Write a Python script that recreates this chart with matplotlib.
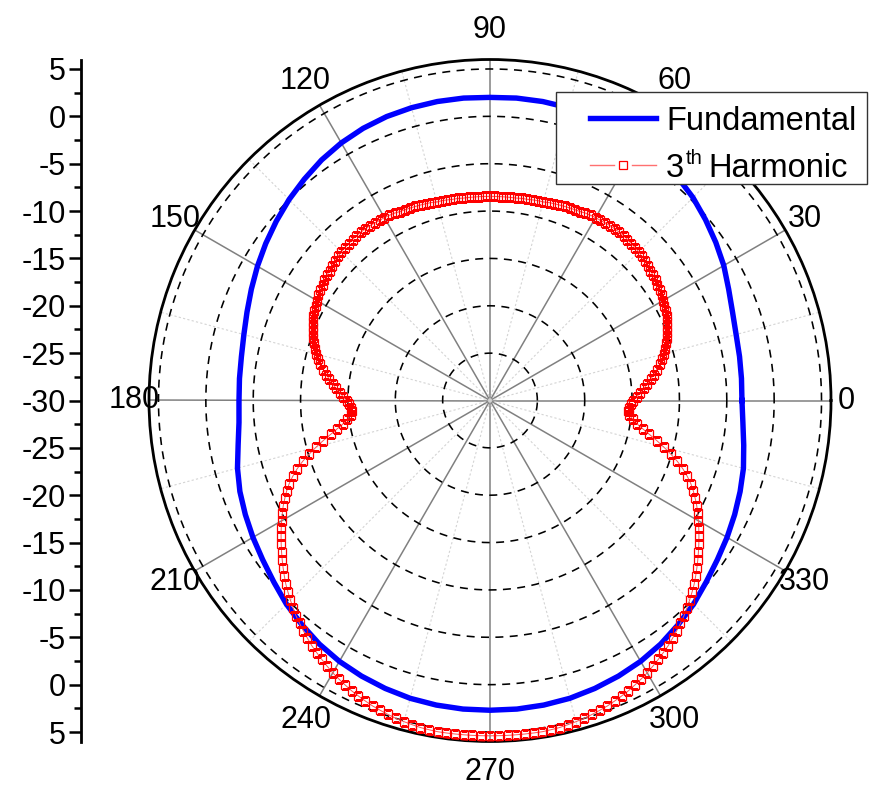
import numpy as np
import matplotlib
matplotlib.use('Agg')
import matplotlib.pyplot as plt
from matplotlib.lines import Line2D
from matplotlib.patches import Rectangle

plt.rcParams['font.family'] = ['Liberation Sans', 'DejaVu Sans']

# ---------------- data ----------------
theta_label_angles = list(range(0, 360, 30))
theta_labels = ['0', '30', '60', '90', '120', '150', '180',
                '210', '240', '270', '300', '330']
r_grid_values = [-25, -20, -15, -10, -5, 0, 5]
left_axis_labels = ['5', '0', '-5', '-10', '-15', '-20', '-25', '-30',
                    '-25', '-20', '-15', '-10', '-5', '0', '5']
legend_fund = 'Fundamental'
legend_harm_num, legend_harm_sup, legend_harm_rest = '3', 'th', 'Harmonic'

# Fundamental, every 5 degrees (0 ... 355)
fund_angles_deg = list(range(0, 360, 5))
fund_db = [-3.4, -3.35, -3.25, -3.1, -2.75, -2.2, -1.5, -0.9, -0.3, 0.3,
           0.8, 1.2, 1.5, 1.75, 1.9, 2.0, 2.05, 2.05, 2.0, 2.05,
           2.05, 2.0, 1.9, 1.7, 1.4, 1.0, 0.5, 0.0, -0.55, -1.1,
           -1.65, -2.2, -2.7, -3.1, -3.35, -3.45, -3.5, -3.4, -3.0, -2.4,
           -1.9, -1.5, -1.1, -0.7, -0.2, 0.4, 0.9, 1.4, 1.8, 2.1,
           2.35, 2.55, 2.65, 2.7, 2.7, 2.7, 2.65, 2.55, 2.35, 2.1,
           1.8, 1.4, 0.9, 0.4, -0.2, -0.7, -1.1, -1.5, -1.9, -2.3,
           -2.8, -3.2]

# 3rd harmonic, every 1.5 degrees, by quadrant
harm_q1 = [-14.9, -14.5, -14.1, -13.7, -13.3, -12.9, -12.5, -12.1, -11.7, -11.35,
           -11.0, -10.7, -10.45, -10.2, -9.95, -9.75, -9.55, -9.35, -9.2, -9.05,
           -8.9, -8.75, -8.65, -8.55, -8.4, -8.3, -8.2, -8.1, -8.0, -7.9,
           -7.8, -7.75, -7.7, -7.65, -7.6, -7.6, -7.6, -7.6, -7.65, -7.7,
           -7.7, -7.75, -7.8, -7.9, -7.95, -8.0, -8.05, -8.1, -8.15, -8.2,
           -8.3, -8.3, -8.35, -8.4, -8.4, -8.45, -8.45, -8.45, -8.45, -8.45]
harm_q2 = [-8.45, -8.45, -8.45, -8.45, -8.45, -8.45, -8.4, -8.4, -8.35, -8.3,
           -8.3, -8.2, -8.15, -8.1, -8.05, -8.0, -7.95, -7.9, -7.8, -7.75,
           -7.7, -7.7, -7.65, -7.6, -7.6, -7.6, -7.6, -7.65, -7.7, -7.75,
           -7.8, -7.9, -8.0, -8.1, -8.2, -8.3, -8.4, -8.55, -8.65, -8.75,
           -8.9, -9.05, -9.2, -9.35, -9.55, -9.75, -9.95, -10.2, -10.45, -10.7,
           -11.0, -11.35, -11.7, -12.1, -12.5, -12.9, -13.3, -13.7, -14.1, -14.5]
harm_q3 = [-14.9, -15.1, -15.3, -15.4, -15.2, -14.8, -14.3, -13.6, -12.8, -11.9,
           -11.0, -10.1, -9.2, -8.4, -7.7, -7.05, -6.5, -6.0, -5.5, -5.05,
           -4.6, -4.15, -3.7, -3.25, -2.8, -2.35, -1.9, -1.45, -1.0, -0.6,
           -0.2, 0.2, 0.6, 0.95, 1.3, 1.65, 2.0, 2.3, 2.6, 2.9,
           3.2, 3.45, 3.7, 3.95, 4.15, 4.35, 4.55, 4.7, 4.85, 5.0,
           5.1, 5.2, 5.3, 5.35, 5.4, 5.4, 5.4, 5.4, 5.4, 5.4]
harm_q4 = [5.4, 5.4, 5.4, 5.4, 5.4, 5.4, 5.4, 5.35, 5.3, 5.2,
           5.1, 5.0, 4.85, 4.7, 4.55, 4.35, 4.15, 3.95, 3.7, 3.45,
           3.2, 2.9, 2.6, 2.3, 2.0, 1.65, 1.3, 0.95, 0.6, 0.2,
           -0.2, -0.6, -1.0, -1.45, -1.9, -2.35, -2.8, -3.25, -3.7, -4.15,
           -4.6, -5.05, -5.5, -6.0, -6.5, -7.05, -7.7, -8.4, -9.2, -10.1,
           -11.0, -11.9, -12.8, -13.6, -14.3, -14.8, -15.2, -15.4, -15.3, -15.1]
harm_step_deg = 1.5

# ---------------- figure ----------------
W, H = 873, 790
FS = 22
FS_LEG = 23.5
fig = plt.figure(figsize=(W / 100, H / 100), dpi=100)


def fx(x):
    return x / W


def fy(y):
    return 1 - y / H


cx, cy, R = 490, 400.5, 341
rmin, rmax = -30, 6
ax = fig.add_axes([(cx - R) / W, (H - cy - R) / H, 2 * R / W, 2 * R / H],
                  projection='polar')
ax.set_ylim(rmin, rmax)
ax.grid(False)
ax.set_yticks([])

# angular grid lines
for a in range(0, 360, 30):
    t = np.deg2rad(a)
    ax.plot([t, t], [rmin, rmax], color='#808080', lw=1.1, zorder=1)
for a in range(15, 360, 30):
    t = np.deg2rad(a)
    ax.plot([t, t], [rmin, rmax], color='#d4d4d4', lw=0.8,
            ls=(0, (2, 2)), zorder=1)
# dashed radial circles
tt = np.linspace(0, 2 * np.pi, 721)
for rv in r_grid_values:
    ax.plot(tt, np.full_like(tt, rv), color='black', lw=1.15,
            ls=(0, (5, 4)), zorder=1)

# data
fa = np.deg2rad(np.array(fund_angles_deg + [fund_angles_deg[0] + 360]))
fv = np.array(fund_db + [fund_db[0]])
ax.plot(fa, fv, color='#0000ff', lw=3.9, zorder=3, solid_joinstyle='round')

harm_db = harm_q1 + harm_q2 + harm_q3 + harm_q4
ha = np.deg2rad(np.arange(len(harm_db)) * harm_step_deg)
ax.plot(ha, harm_db, color='#ff5050', lw=0.7, marker='s', markersize=5.4,
        mfc='none', mec='#ff0000', mew=0.9, zorder=4)

# theta ticks (marks only); labels placed around the circle
ax.set_xticks(np.deg2rad(np.arange(0, 360, 30)))
ax.set_xticklabels([])
ax.set_xticks(np.deg2rad(np.arange(15, 360, 30)), minor=True)
ax.tick_params(axis='x', which='major', direction='in', length=7, width=1.5,
               colors='black')
ax.tick_params(axis='x', which='minor', direction='in', length=5, width=1.2)
ax.spines['polar'].set_linewidth(2.0)
ax.spines['polar'].set_color('black')

for ang, lab in zip(theta_label_angles, theta_labels):
    t = np.deg2rad(ang)
    d = 356 + 15 * abs(np.sin(t))
    fig.text(fx(cx + d * np.cos(t)), fy(cy - d * np.sin(t)), lab,
             ha='center', va='center', fontsize=FS)

# legend (drawn Origin-style)
fig.add_artist(Rectangle((fx(556), fy(184)), fx(867) - fx(556), fy(92) - fy(184),
                         transform=fig.transFigure, facecolor='white',
                         edgecolor='#333333', lw=1.0, zorder=10))
fig.add_artist(Line2D([fx(590), fx(656)], [fy(118), fy(118)],
                      transform=fig.transFigure, color='#0000ff', lw=3.9,
                      zorder=11))
fig.add_artist(Line2D([fx(590), fx(614)], [fy(165), fy(165)],
                      transform=fig.transFigure, color='#ff7070', lw=1.0, zorder=11))
fig.add_artist(Line2D([fx(632), fx(656)], [fy(165), fy(165)],
                      transform=fig.transFigure, color='#ff7070', lw=1.0, zorder=11))
fig.add_artist(Line2D([fx(623)], [fy(165)], transform=fig.transFigure,
                      marker='s', markersize=6, mfc='none', mec='#ff0000',
                      mew=0.9, ls='none', zorder=11))
fig.text(fx(666), fy(130), legend_fund, ha='left', va='baseline',
         fontsize=FS_LEG, zorder=12)
fig.text(fx(666), fy(177), legend_harm_num, ha='left', va='baseline',
         fontsize=FS_LEG, zorder=12)
fig.text(fx(685.5), fy(164), legend_harm_sup, ha='left', va='baseline',
         fontsize=14.5, zorder=12)
fig.text(fx(708), fy(177), legend_harm_rest, ha='left', va='baseline',
         fontsize=FS_LEG, zorder=12)

# left linear axis
axl = fig.add_axes([81 / W, (H - cy - R) / H, 0.0005, 2 * R / H])
axl.set_ylim(-(rmax - rmin), rmax - rmin)
axl.set_xlim(0, 1)
for s in ['top', 'right', 'bottom']:
    axl.spines[s].set_visible(False)
axl.spines['left'].set_linewidth(2.0)
axl.set_xticks([])
major_pos = np.arange(35, -36, -5)
axl.set_yticks(major_pos)
axl.set_yticklabels(left_axis_labels)
axl.set_yticks(np.arange(32.5, -33, -5), minor=True)
axl.tick_params(axis='y', which='major', length=9, width=1.8, labelsize=FS, pad=2)
axl.tick_params(axis='y', which='minor', length=5, width=1.8)
axl.patch.set_visible(False)

fig.savefig('out.png', dpi=100)
